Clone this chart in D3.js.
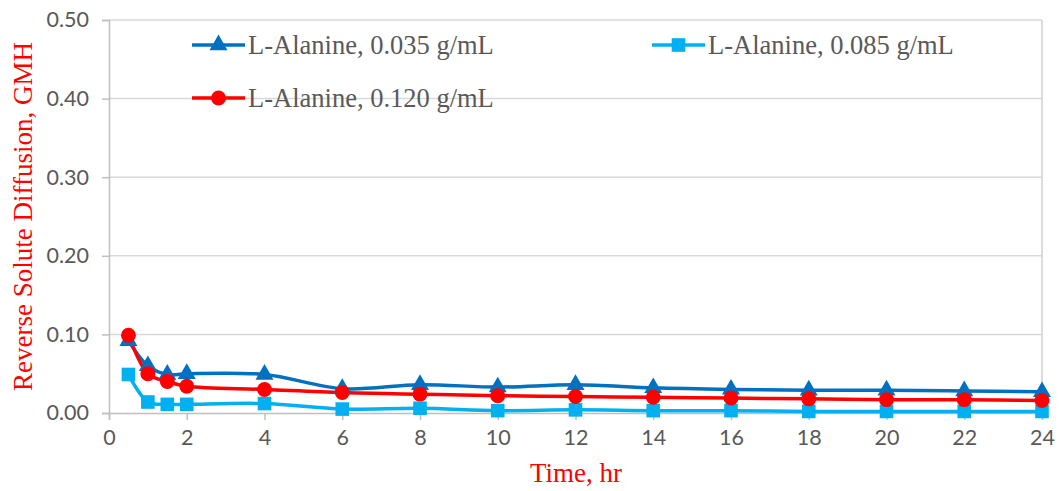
<!DOCTYPE html>
<html>
<head>
<meta charset="utf-8">
<script src="https://cdn.jsdelivr.net/npm/d3@7"></script>
<style>
  html, body { margin: 0; padding: 0; background: #fff; }
  svg { display: block; }
</style>
</head>
<body>
<svg id="chart" width="1061" height="491"></svg>
<script>
// Sampling times (hr)
const times = [0.5, 1, 1.5, 2, 4, 6, 8, 10, 12, 14, 16, 18, 20, 22, 24];

// Reverse solute diffusion (GMH) per L-Alanine concentration
const ala035 = [0.092, 0.060, 0.049, 0.050, 0.049, 0.031, 0.036, 0.033, 0.036, 0.032, 0.030, 0.029, 0.029, 0.028, 0.027];
const ala085 = [0.049, 0.014, 0.011, 0.011, 0.012, 0.005, 0.006, 0.003, 0.004, 0.003, 0.003, 0.002, 0.002, 0.002, 0.002];
const ala120 = [0.099, 0.050, 0.040, 0.034, 0.030, 0.026, 0.024, 0.022, 0.021, 0.020, 0.019, 0.018, 0.017, 0.017, 0.016];

const seriesNames = ["L-Alanine, 0.035 g/mL", "L-Alanine, 0.085 g/mL", "L-Alanine, 0.120 g/mL"];
const xTicks = [0, 2, 4, 6, 8, 10, 12, 14, 16, 18, 20, 22, 24];
const yTicks = [0, 0.1, 0.2, 0.3, 0.4, 0.5];

const series = [
  { name: seriesNames[0], values: ala035, color: "#0070C0", symbol: d3.symbolTriangle, size: 140 },
  { name: seriesNames[1], values: ala085, color: "#00B0F0", symbol: d3.symbolSquare, size: 185 },
  { name: seriesNames[2], values: ala120, color: "#FF0000", symbol: d3.symbolCircle, size: 175 }
];

const svg = d3.select("#chart");
const plot = { left: 109, right: 1042, top: 20, bottom: 413 };

const x = d3.scaleLinear().domain([0, 24]).range([plot.left, plot.right]);
const y = d3.scaleLinear().domain([0, 0.5]).range([plot.bottom, plot.top]);

const serif = "'Liberation Serif', 'Times New Roman', serif";
const tickFont = "Lato, 'Open Sans', sans-serif";

// Horizontal gridlines
svg.append("g")
  .selectAll("line")
  .data(yTicks.filter(t => t > 0))
  .join("line")
  .attr("x1", plot.left).attr("x2", plot.right)
  .attr("y1", d => y(d)).attr("y2", d => y(d))
  .attr("stroke", "#d9d9d9").attr("stroke-width", 1.5);

// Right border of plot area
svg.append("line")
  .attr("x1", plot.right).attr("x2", plot.right)
  .attr("y1", plot.top).attr("y2", plot.bottom)
  .attr("stroke", "#d0d0d0").attr("stroke-width", 1.5);

// X axis
const xAxis = svg.append("g")
  .attr("transform", `translate(0,${plot.bottom})`)
  .call(d3.axisBottom(x).tickValues(xTicks).tickSize(7).tickPadding(10).tickFormat(d3.format("d")));
xAxis.select(".domain").attr("stroke", "#bfbfbf").attr("stroke-width", 1.5);
xAxis.selectAll(".tick line").attr("stroke", "#bfbfbf").attr("stroke-width", 1.5);
xAxis.selectAll(".tick text")
  .attr("fill", "#595959").style("font-family", tickFont).style("font-size", "21.5px");

// Y axis
const yAxis = svg.append("g")
  .attr("transform", `translate(${plot.left},0)`)
  .call(d3.axisLeft(y).tickValues(yTicks).tickSize(7).tickPadding(13).tickFormat(d3.format(".2f")));
yAxis.select(".domain").attr("stroke", "#bfbfbf").attr("stroke-width", 1.5);
yAxis.selectAll(".tick line").attr("stroke", "#bfbfbf").attr("stroke-width", 1.5);
yAxis.selectAll(".tick text")
  .attr("fill", "#595959").style("font-family", tickFont).style("font-size", "21.5px");

// Series lines (smoothed) and markers
const line = d3.line()
  .x((d, i) => x(times[i]))
  .y(d => y(d))
  .curve(d3.curveCatmullRom.alpha(0.5));

series.forEach(s => {
  svg.append("path")
    .attr("d", line(s.values))
    .attr("fill", "none")
    .attr("stroke", s.color)
    .attr("stroke-width", 3.5)
    .attr("stroke-linejoin", "round");
});

series.forEach(s => {
  const sym = d3.symbol().type(s.symbol).size(s.size);
  svg.append("g")
    .selectAll("path")
    .data(s.values)
    .join("path")
    .attr("transform", (d, i) => `translate(${x(times[i])},${y(d)})`)
    .attr("d", sym)
    .attr("fill", s.color);
});

// Legend
const legendPos = [
  { lx: 192, ly: 45 },
  { lx: 652, ly: 45 },
  { lx: 192, ly: 98 }
];
series.forEach((s, i) => {
  const p = legendPos[i];
  const g = svg.append("g").attr("transform", `translate(${p.lx},${p.ly})`);
  g.append("line").attr("x1", 0).attr("x2", 53).attr("y1", 0).attr("y2", 0)
    .attr("stroke", s.color).attr("stroke-width", 3.5);
  g.append("path").attr("transform", "translate(26.5,0)")
    .attr("d", d3.symbol().type(s.symbol).size(s.size)()).attr("fill", s.color);
  g.append("text").attr("x", 56).attr("y", 0).attr("dy", "0.33em")
    .attr("fill", "#595959")
    .style("font-family", serif)
    .style("font-size", "26.5px")
    .text(s.name);
});

// Axis titles
svg.append("text")
  .attr("x", 576).attr("y", 482)
  .attr("text-anchor", "middle")
  .attr("fill", "#FF0000")
  .style("font-family", serif)
  .style("font-size", "27px")
  .text("Time, hr");

svg.append("text")
  .attr("transform", `translate(32,216.5) rotate(-90)`)
  .attr("text-anchor", "middle")
  .attr("fill", "#FF0000")
  .style("font-family", serif)
  .style("font-size", "27px")
  .text("Reverse Solute Diffusion, GMH");
</script>
</body>
</html>
